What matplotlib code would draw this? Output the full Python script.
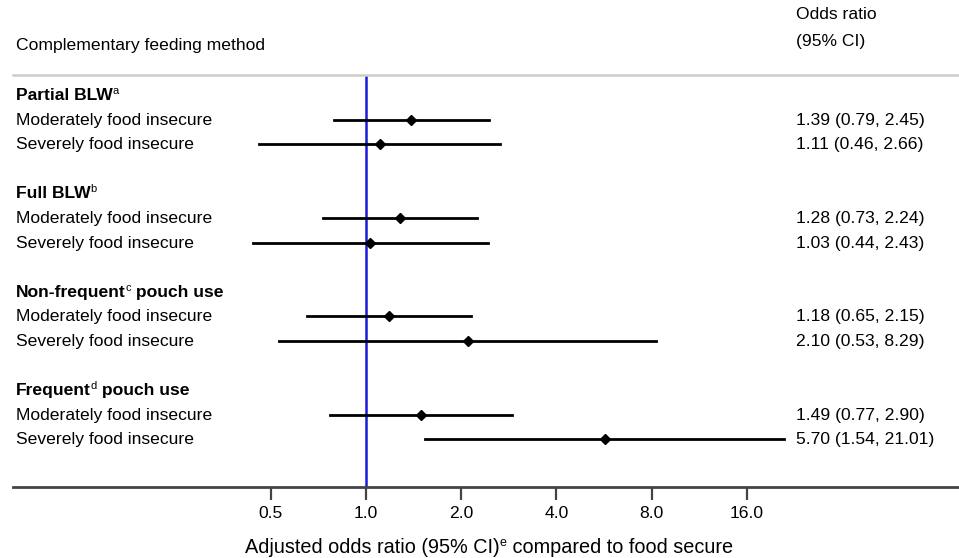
import matplotlib.pyplot as plt
from matplotlib.transforms import IdentityTransform

plt.rcParams["font.family"] = ["Liberation Sans", "DejaVu Sans"]

# groups and rows
groups = ["Partial BLW", "Full BLW", "Non-frequent", "Frequent"]
group_suffix = ["", "", " pouch use", " pouch use"]
group_sup = ["a", "b", "c", "d"]
row_labels = ["Moderately food insecure", "Severely food insecure"]

odds = [1.39, 1.11, 1.28, 1.03, 1.18, 2.10, 1.49, 5.70]
ci_low = [0.79, 0.46, 0.73, 0.44, 0.65, 0.53, 0.77, 1.54]
ci_high = [2.45, 2.66, 2.24, 2.43, 2.15, 8.29, 2.90, 21.01]

xticks = [0.5, 1.0, 2.0, 4.0, 8.0, 16.0]
xtick_labels = ["0.5", "1.0", "2.0", "4.0", "8.0", "16.0"]

W, H = 959, 558
FS = 12.6
SUP = 8
fig = plt.figure(figsize=(W / 100, H / 100), dpi=100)

# plot area in pixels
px_left, px_right = 13, 959
px_top, px_bot = 75, 487
ax = fig.add_axes([px_left / W, (H - px_bot) / H,
                   (px_right - px_left) / W, (px_bot - px_top) / H])

# x mapping: 1.0 at px 366, 95.2 px per doubling
x0, per = 366, 95.2
ax.set_xscale("log", base=2)
ax.set_xlim(2 ** ((px_left - x0) / per), 2 ** ((px_right - x0) / per))

# y mapping: row index -> pixel 95 + idx*24.6
y0, dy = 95, 24.6
ax.set_ylim((px_bot - y0) / dy, (px_top - y0) / dy)

for s in ["top", "left", "right"]:
    ax.spines[s].set_visible(False)
ax.spines["bottom"].set_color("#444444")
ax.spines["bottom"].set_linewidth(2)
ax.set_yticks([])
ax.set_xticks(xticks)
ax.set_xticklabels(xtick_labels, fontsize=FS)
ax.minorticks_off()
ax.tick_params(axis="x", length=9, width=1.6, color="#444444", pad=5)

ax.axvline(1.0, color="#1a1adb", lw=1.8, zorder=1)

fig.canvas.draw()
renderer = fig.canvas.get_renderer()


def rich(x, y_px, pieces, ha="left"):
    # pieces: (text, size, weight, rise in px); y_px is baseline from top
    arts, widths = [], []
    for txt, size, weight, rise in pieces:
        a = fig.text(0, 0, txt, fontsize=size, fontweight=weight,
                     va="baseline", ha="left", transform=IdentityTransform())
        widths.append(a.get_window_extent(renderer).width)
        arts.append(a)
    start = x - sum(widths) / 2 if ha == "center" else x
    for a, w, p in zip(arts, widths, pieces):
        a.set_position((start, H - y_px + p[3]))
        start += w


label_x = 16
or_x = 796
base = 5  # baseline offset below row centre

k = 0
for g in range(len(groups)):
    head_y = y0 + g * 4 * dy
    pieces = [(groups[g], FS, "bold", 0), (group_sup[g], SUP, "normal", 6)]
    if group_suffix[g]:
        pieces.append((group_suffix[g], FS, "bold", 0))
    rich(label_x, head_y + base, pieces)
    for r in range(2):
        idx = g * 4 + 1 + r
        ypx = y0 + idx * dy
        rich(label_x, ypx + base, [(row_labels[r], FS, "normal", 0)])
        ax.plot([ci_low[k], ci_high[k]], [idx, idx], color="black", lw=2, zorder=2)
        ax.plot(odds[k], idx, marker="D", color="black", ms=5, zorder=3)
        rich(or_x, ypx + base,
             [(f"{odds[k]:.2f} ({ci_low[k]:.2f}, {ci_high[k]:.2f})", FS, "normal", 0)])
        k += 1

# header
rich(label_x, 45 + base, [("Complementary feeding method", FS, "normal", 0)])
rich(or_x, 14 + base, [("Odds ratio", FS, "normal", 0)])
rich(or_x, 41 + base, [("(95% CI)", FS, "normal", 0)])
fig.add_artist(plt.Line2D([13 / W, 1], [1 - 75 / H, 1 - 75 / H],
                          color="#cccccc", lw=1.8, transform=fig.transFigure))

# x label with superscript
XL = 14.3
rich(489, 553, [("Adjusted odds ratio (95% CI)", XL, "normal", 0),
                ("e", 9, "normal", 7),
                (" compared to food secure", XL, "normal", 0)], ha="center")

fig.savefig("out.png", dpi=100)
